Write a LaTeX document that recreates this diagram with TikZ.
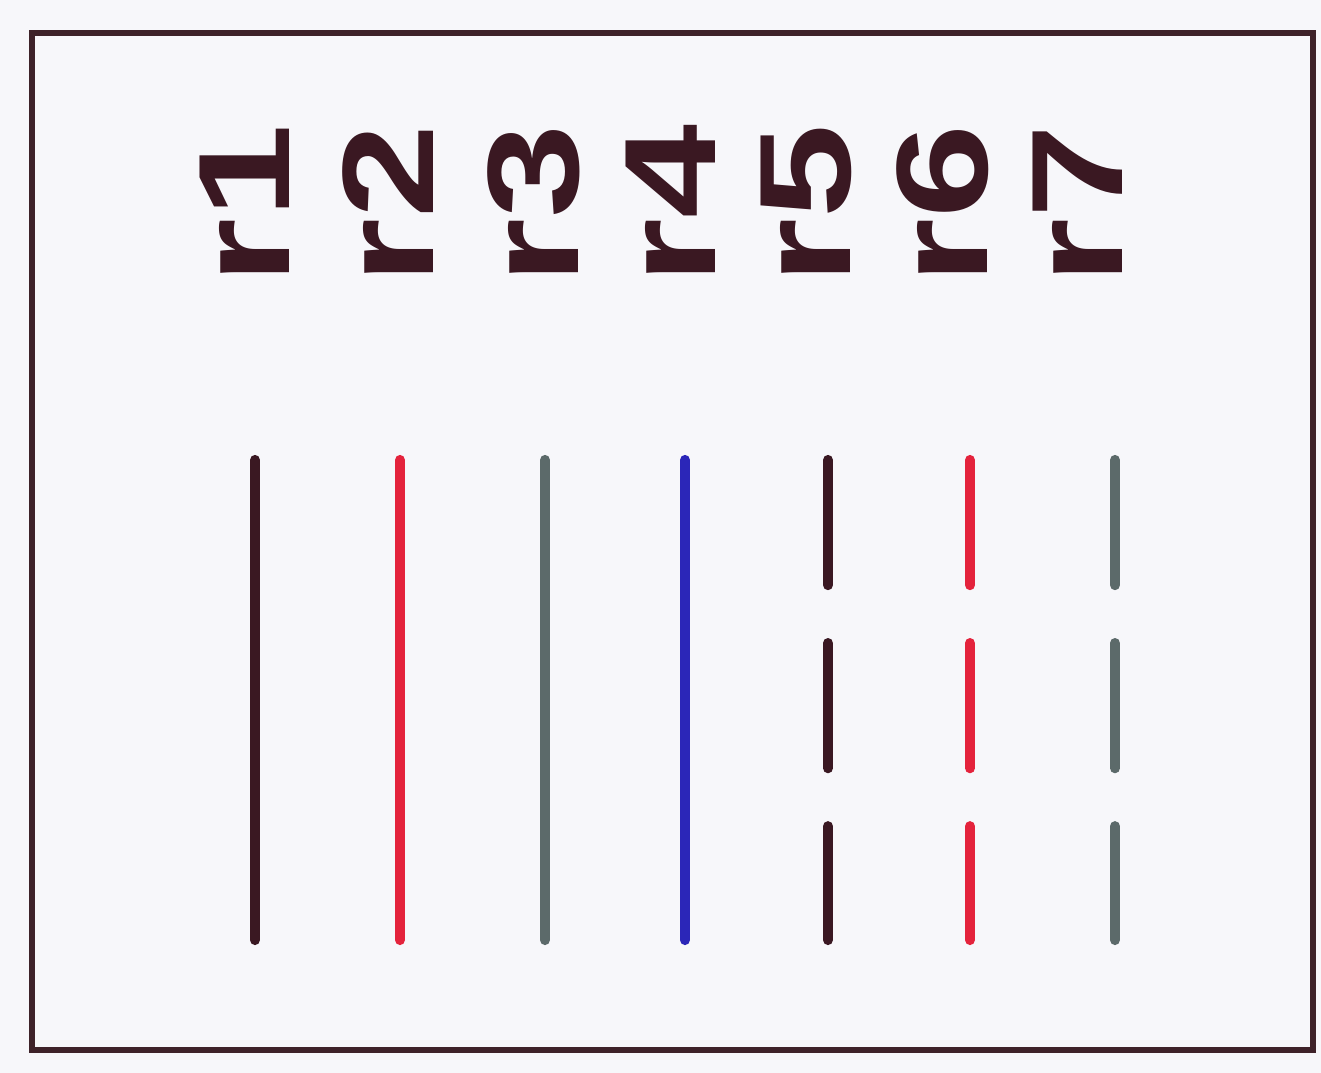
\documentclass[tikz,border=0pt]{standalone}
\usepackage{fontspec}
\newfontfamily\legendfont{Liberation Sans}
\usepackage{tikz}
\usetikzlibrary{positioning}

\definecolor{paper}{HTML}{F7F7FA}
\definecolor{framedark}{HTML}{3E2229}
\definecolor{inkdark}{HTML}{3A1822}
\definecolor{inkred}{HTML}{E4233C}
\definecolor{inkgray}{HTML}{5C6A6A}
\definecolor{inkblue}{HTML}{2B26B8}

\newcommand{\widelab}[1]{\scalebox{1.3}[1]{#1}}

\begin{document}
\begin{tikzpicture}[
        x=0.01cm,
        y=-0.01cm,
        frame/.style={line width=1.8pt, draw=framedark},
        sample/.style={line width=2.9pt, line cap=round},
        broken/.style={sample, dash pattern=on 1.25cm off 0.58cm},
        lab/.style={rotate=90, anchor=base west, inner sep=0pt, text=inkdark,
            font=\legendfont\bfseries\fontsize{37}{40}\selectfont}
    ]
        \useasboundingbox (0,0) rectangle (1321,1073);
        \fill[paper] (0,0) rectangle (1321,1073);
        \draw[frame] (32,33) rectangle (1313,1050);

        \foreach \i/\lx/\bx/\col/\sty in {1/255/289/inkdark/sample,
                2/400/433/inkred/sample,
                3/545/578/inkgray/sample,
                4/685/715/inkblue/sample,
                5/828/850/inkdark/broken,
                6/970/987/inkred/broken,
                7/1115/1122/inkgray/broken} {
            \node[lab] (r\i) at (\bx,285) {\widelab{r\i}};
            \coordinate (top\i) at (\lx,460);
            \coordinate (bot\i) at (\lx,940);
            \draw[\sty, draw=\col] (top\i) -- (bot\i);
        }
    \end{tikzpicture}
\end{document}
